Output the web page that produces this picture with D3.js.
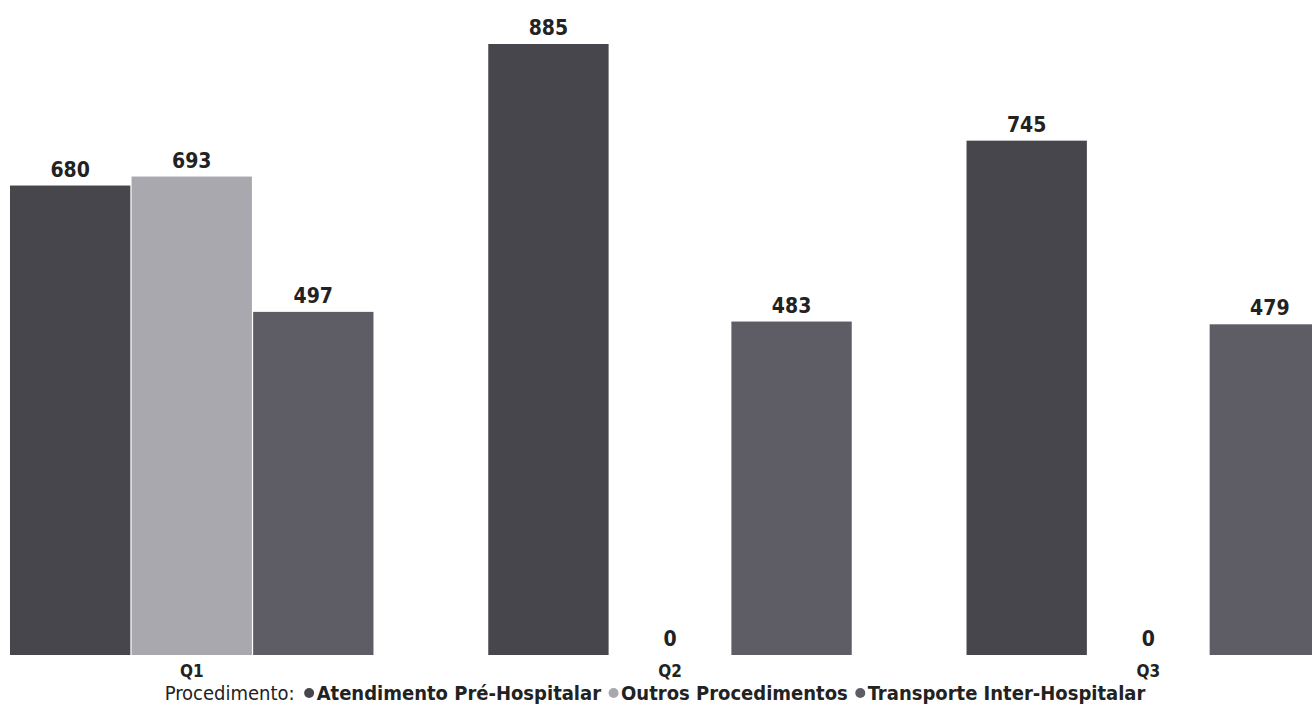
<!DOCTYPE html>
<html>
<head>
<meta charset="utf-8">
<script src="https://cdn.jsdelivr.net/npm/d3@7"></script>
<style>
  html, body { margin: 0; padding: 0; background: #ffffff; }
  svg { display: block; }
</style>
</head>
<body>
<svg id="chart" width="1312" height="710"></svg>
<script>
const quarters = ["Q1", "Q2", "Q3"];
const seriesNames = ["Atendimento Pré-Hospitalar", "Outros Procedimentos", "Transporte Inter-Hospitalar"];
const atendimento = [680, 885, 745];
const outros = [693, 0, 0];
const transporte = [497, 483, 479];
const legendTitle = "Procedimento:";
const colors = ["#47464d", "#a9a8ae", "#5e5d66"];

const seriesValues = [atendimento, outros, transporte];
const rows = quarters.map((q, i) => ({ q, vals: seriesValues.map((s, j) => ({ key: seriesNames[j], v: s[i], j })) }));

const svg = d3.select("#chart");
const baseY = 655, topY = 44;

const x0 = d3.scaleBand().domain(quarters).range([10, 1330]).paddingInner(0.24).paddingOuter(0);
const x1 = d3.scaleBand().domain(seriesNames).range([0, x0.bandwidth()]).paddingInner(0.01);
const y = d3.scaleLinear().domain([0, 885]).range([baseY, topY]);
const color = d3.scaleOrdinal().domain(seriesNames).range(colors);

const labelFont = "'Liberation Sans Narrow', 'DejaVu Sans Condensed', 'Roboto', sans-serif";

const g = svg.append("g");
const groups = g.selectAll("g.grp").data(rows).join("g")
  .attr("class", "grp")
  .attr("transform", d => `translate(${x0(d.q)},0)`);

groups.selectAll("rect").data(d => d.vals).join("rect")
  .attr("x", d => x1(d.key))
  .attr("width", x1.bandwidth())
  .attr("y", d => y(d.v))
  .attr("height", d => baseY - y(d.v))
  .attr("fill", d => color(d.key));

groups.selectAll("text.val").data(d => d.vals).join("text")
  .attr("class", "val")
  .attr("x", d => x1(d.key) + x1.bandwidth() / 2)
  .attr("y", d => y(d.v) - 9)
  .attr("text-anchor", "middle")
  .attr("font-family", labelFont)
  .attr("font-weight", "bold")
  .attr("font-size", 21)
  .attr("fill", "#222")
  .text(d => d.v);

// x axis labels
const xAxis = d3.axisBottom(x0).tickSize(0).tickPadding(0);
const ax = svg.append("g").attr("transform", `translate(0,${baseY + 10})`).call(xAxis);
ax.select(".domain").remove();
ax.selectAll("text")
  .attr("font-family", labelFont)
  .attr("font-weight", 600)
  .attr("font-size", 17)
  .attr("fill", "#222")
  .attr("dy", "0.71em");

// legend
const leg = svg.append("g").attr("transform", `translate(0,700)`);
let cx = 0;
const t0 = leg.append("text").attr("x", cx).attr("y", 0)
  .attr("font-family", labelFont).attr("font-size", 20).attr("fill", "#222").text(legendTitle);
cx += t0.node().getComputedTextLength() + 10;
seriesNames.forEach((name, j) => {
  leg.append("circle").attr("cx", cx + 4.5).attr("cy", -7).attr("r", 5).attr("fill", colors[j]);
  cx += 12;
  const t = leg.append("text").attr("x", cx).attr("y", 0)
    .attr("font-family", labelFont).attr("font-weight", "bold").attr("font-size", 20).attr("fill", "#222").text(name);
  cx += t.node().getComputedTextLength() + 8;
});
const legW = cx - 8;
leg.attr("transform", `translate(${655 - legW / 2},700)`);
</script>
</body>
</html>
